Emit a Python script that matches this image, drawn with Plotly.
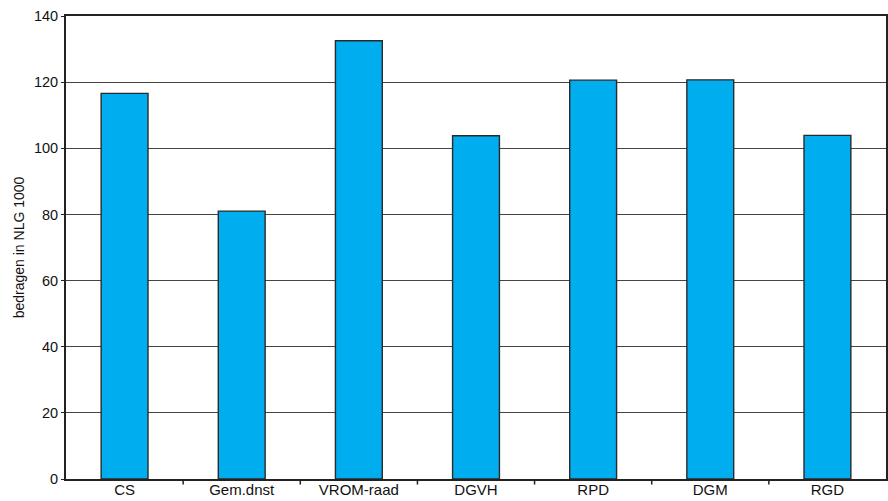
import plotly.graph_objects as go

categories = ["CS", "Gem.dnst", "VROM-raad", "DGVH", "RPD", "DGM", "RGD"]
values = [116.6, 81.0, 132.5, 103.8, 120.6, 120.7, 103.9]
y_ticks = [0, 20, 40, 60, 80, 100, 120, 140]

fig = go.Figure(go.Bar(
    x=categories, y=values,
    marker=dict(color="#00AEEF", line=dict(color="#2a2a2a", width=1.4)),
    width=0.4,
))

fig.update_layout(
    width=888, height=501,
    margin=dict(l=66, r=2, t=16, b=22, autoexpand=False),
    plot_bgcolor="white", paper_bgcolor="white",
    font=dict(family="Liberation Sans, Arial, sans-serif", size=14, color="#111111"),
    showlegend=False,
    bargap=0.6,
)
fig.update_xaxes(
    showline=True, linecolor="#222222", linewidth=2, mirror=True,
    ticks="", showgrid=False, tickfont=dict(size=15),
    automargin=False, ticklabelstandoff=-4,
)
fig.update_yaxes(
    range=[0, 140], tickvals=y_ticks,
    showline=True, linecolor="#222222", linewidth=2, mirror=True,
    ticks="outside", ticklen=3, tickcolor="#222222",
    showgrid=True, gridcolor="#444444", gridwidth=1,
    tickfont=dict(size=14.5),
    title=dict(text="bedragen in NLG 1000", font=dict(size=14), standoff=6),
    zeroline=False, automargin=False,
)

# category boundary tick marks on the x axis
shapes = []
for i in range(1, len(categories)):
    shapes.append(dict(type="line", xref="x", yref="paper",
                       x0=i - 0.5, x1=i - 0.5, y0=0, y1=-0.012,
                       line=dict(color="#222222", width=1.5)))
fig.update_layout(shapes=shapes)

fig.write_html(
    "out.html",
    config={"displayModeBar": False},
    post_script="document.body.style.margin='0';document.body.style.padding='0';",
)
